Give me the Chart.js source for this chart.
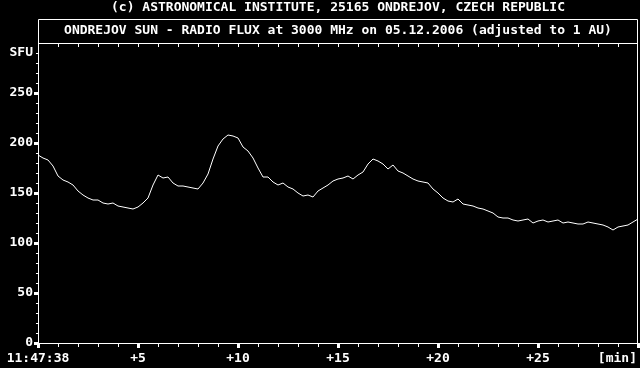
<!DOCTYPE html>
<html lang="en">
<head>
<meta charset="UTF-8" />
<title>Ondrejov Sun - Radio Flux</title>
<script src="https://cdn.jsdelivr.net/npm/chart.js"></script>
<style>
  html, body { margin: 0; padding: 0; background: #000; }
  #wrap { width: 640px; height: 368px; }
</style>
</head>
<body>
<div id="wrap"><canvas id="chart" width="640" height="368"></canvas></div>
<script>
// texts
const topTitle = '(c) ASTRONOMICAL INSTITUTE, 25165 ONDREJOV, CZECH REPUBLIC';
const boxTitle = 'ONDREJOV SUN - RADIO FLUX at 3000 MHz on 05.12.2006 (adjusted to 1 AU)';

// x axis: minutes after start
const xTickValues = [0, 5, 10, 15, 20, 25, 30];
const xTickLabels = ['11:47:38', '+5', '+10', '+15', '+20', '+25', '[min]'];
// y axis
const yTickValues = [0, 50, 100, 150, 200, 250, 290];
const yTickLabels = ['0', '50', '100', '150', '200', '250', 'SFU'];

// flux, one sample every quarter minute
const sampleStep = 0.25;
const flux = [
  188, 185, 183, 177, 167, 163, 161, 158, 152, 148,
  145, 143, 143, 140, 139, 140, 137, 136, 135, 134,
  136, 140, 145, 158, 168, 165, 166, 160, 157, 157,
  156, 155, 154, 160, 169, 184, 197, 204, 208, 207,
  205, 196, 192, 185, 175, 166, 166, 161, 158, 160,
  156, 154, 150, 147, 148, 146, 152, 155, 158, 162,
  164, 165, 167, 164, 168, 171, 179, 184, 182, 179,
  174, 178, 172, 170, 167, 164, 162, 161, 160, 154,
  150, 145, 142, 141, 144, 139, 138, 137, 135, 134,
  132, 130, 126, 125, 125, 123, 122, 123, 124, 120,
  122, 123, 121, 122, 123, 120, 121, 120, 119, 119,
  121, 120, 119, 118, 116, 113, 116, 117, 118, 121,
  124
];

const points = flux.map((v, i) => ({ x: i * sampleStep, y: v }));

const FONT = 'bold 13px "DejaVu Sans Mono", "Liberation Mono", monospace';

// frame, ticks and labels in the old terminal style
const framePlugin = {
  id: 'frame',
  beforeDraw(chart) {
    const c = chart.ctx;
    c.save();
    c.fillStyle = '#000';
    c.fillRect(0, 0, chart.width, chart.height);
    c.restore();
  },
  afterDraw(chart) {
    const c = chart.ctx;
    const a = chart.chartArea;
    const xs = chart.scales.x;
    const ys = chart.scales.y;
    const boxTop = 19;
    c.save();
    c.strokeStyle = '#fff';
    c.fillStyle = '#fff';
    c.lineWidth = 1;

    // outer box + title separator + x axis line
    c.beginPath();
    c.moveTo(a.left + 0.5, boxTop + 0.5);
    c.lineTo(a.right - 0.5, boxTop + 0.5);
    c.lineTo(a.right - 0.5, a.bottom + 0.5);
    c.moveTo(a.left + 0.5, boxTop + 0.5);
    c.lineTo(a.left + 0.5, a.bottom + 0.5);
    c.lineTo(a.right, a.bottom + 0.5);
    c.moveTo(a.left, a.top + 0.5);
    c.lineTo(a.right, a.top + 0.5);
    c.stroke();

    // x ticks, every minute
    for (let m = 0; m <= 30; m++) {
      const px = Math.round(xs.getPixelForValue(m));
      if (m % 5 === 0) {
        c.fillRect(px - 1, a.bottom, 3, 5);
      } else {
        c.fillRect(px, a.bottom + 1, 1, 3);
      }
      if (m > 0 && m < 30) c.fillRect(px, a.top + 1, 1, 3);
    }
    // y ticks, every 10 SFU
    for (let v = 0; v < 300; v += 10) {
      const py = Math.round(ys.getPixelForValue(v));
      if (v % 50 === 0) {
        c.fillRect(a.left - 4, py - 1, 4, 3);
      } else {
        c.fillRect(a.left - 2, py, 2, 1);
      }
    }

    c.font = FONT;
    c.textBaseline = 'middle';
    // titles
    c.textAlign = 'center';
    const mid = (a.left + a.right) / 2;
    c.fillText(topTitle, mid, 8);
    c.fillText(boxTitle, mid, 31);

    // y labels
    c.textAlign = 'right';
    yTickValues.forEach((v, i) => {
      c.fillText(yTickLabels[i], a.left - 5, ys.getPixelForValue(v));
    });
    // x labels
    xTickValues.forEach((v, i) => {
      const last = i === xTickValues.length - 1;
      c.textAlign = last ? 'right' : 'center';
      const px = last ? a.right - 1 : xs.getPixelForValue(v);
      c.fillText(xTickLabels[i], px, 359);
    });
    c.restore();
  }
};

const ctx = document.getElementById('chart');
const myChart = new Chart(ctx, {
  type: 'line',
  data: {
    datasets: [{
      data: points,
      borderColor: '#fff',
      borderWidth: 1,
      pointRadius: 0,
      tension: 0,
      fill: false
    }]
  },
  options: {
    responsive: false,
    animation: false,
    layout: { padding: { left: 38, right: 2, top: 43, bottom: 25 } },
    plugins: { legend: { display: false }, tooltip: { enabled: false }, title: { display: false } },
    scales: {
      x: { type: 'linear', min: 0, max: 30, display: false },
      y: { type: 'linear', min: 0, max: 300, display: false }
    }
  },
  plugins: [framePlugin]
});
</script>
</body>
</html>
